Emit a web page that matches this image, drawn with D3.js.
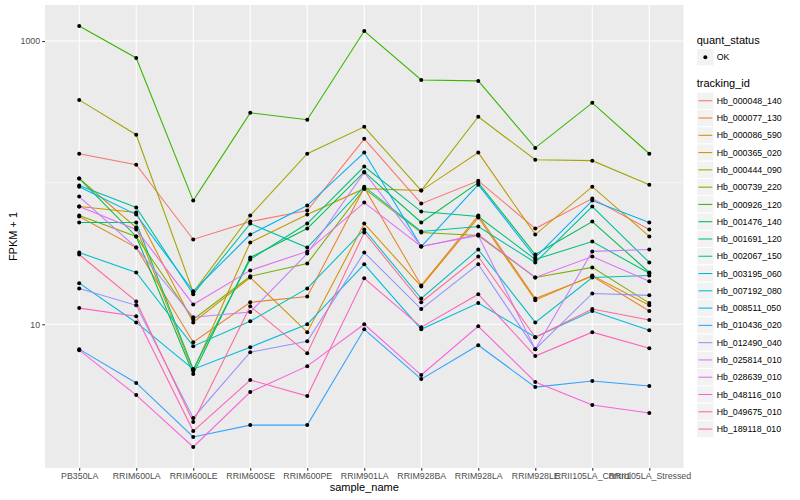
<!DOCTYPE html>
<html lang="en">
<head>
<meta charset="utf-8">
<style>
  body { margin: 0; background: #ffffff; }
  text { font-family: "Liberation Sans", Arial, sans-serif; }
  .axis text { fill: #4d4d4d; font-size: 8.8px; }
  .axis line { stroke: #333333; stroke-width: 1.07; }
  .axis path { display: none; }
</style>
</head>
<body>
<script src="https://d3js.org/d3.v7.min.js"></script>
<script>
// categories on the x axis
const samples = ["PB350LA", "RRIM600LA", "RRIM600LE", "RRIM600SE", "RRIM600PE", "RRIM901LA",
                 "RRIM928BA", "RRIM928LA", "RRIM928LE", "RRII105LA_Control", "RRII105LA_Stressed"];

const trackingIds = ["Hb_000048_140", "Hb_000077_130", "Hb_000086_590", "Hb_000365_020", "Hb_000444_090",
                     "Hb_000739_220", "Hb_000926_120", "Hb_001476_140", "Hb_001691_120", "Hb_002067_150",
                     "Hb_003195_060", "Hb_007192_080", "Hb_008511_050", "Hb_010436_020", "Hb_012490_040",
                     "Hb_025814_010", "Hb_028639_010", "Hb_048116_010", "Hb_049675_010", "Hb_189118_010"];

// FPKM + 1, one row per tracking id, one value per sample
const fpkmPlusOne = [
  [160, 134, 39.7, 53.1, 63.5, 204, 71.1, 103, 47.4, 77.2, 46.7],
  [57.7, 34.8, 7.47, 14.3, 15.7, 92.2, 18.8, 58.6, 15.2, 21.8, 12.4],
  [67.8, 61.5, 10.3, 21.4, 8.79, 51.4, 18.5, 56.7, 14.8, 22.1, 13.6],
  [107, 48.2, 4.67, 37.8, 59.5, 90.7, 87.9, 163, 43.0, 93.7, 41.7],
  [384, 218, 16.8, 58.6, 160, 248, 87.9, 292, 145, 143, 96.8],
  [58.6, 41.7, 10.8, 21.8, 26.9, 90.7, 44.5, 42.3, 21.4, 25.2, 14.1],
  [1276, 759, 74.7, 311, 278, 1176, 531, 523, 176, 366, 160],
  [107, 41.7, 4.45, 29.6, 47.4, 119, 52.3, 100, 31.1, 53.1, 23.2],
  [52.3, 52.3, 4.82, 28.7, 51.4, 130, 62.5, 57.7, 28.7, 38.4, 22.9],
  [95.3, 66.7, 16.3, 51.4, 34.8, 93.7, 45.2, 49.0, 27.3, 67.8, 27.3],
  [32.1, 23.2, 7.00, 10.5, 17.9, 46.7, 15.2, 33.7, 10.3, 21.4, 22.1],
  [19.5, 10.3, 4.82, 6.89, 10.0, 26.5, 9.22, 14.1, 8.10, 12.4, 9.08],
  [93.7, 59.5, 17.1, 43.0, 68.9, 163, 35.4, 96.8, 29.6, 74.7, 52.3],
  [6.67, 3.85, 1.60, 1.94, 1.94, 9.22, 4.10, 7.11, 3.60, 3.97, 3.66],
  [17.9, 13.6, 2.18, 6.35, 7.59, 32.1, 12.8, 26.5, 6.67, 16.5, 16.0],
  [79.7, 34.8, 11.2, 12.2, 31.6, 118, 35.4, 42.3, 6.67, 32.7, 33.7],
  [67.8, 46.7, 13.8, 24.0, 32.7, 72.3, 35.4, 43.0, 21.4, 30.1, 20.1],
  [6.56, 3.16, 1.36, 3.32, 5.06, 10.0, 4.38, 9.68, 3.91, 2.69, 2.36],
  [13.0, 11.4, 1.76, 4.04, 3.11, 21.1, 9.53, 16.3, 5.96, 8.79, 6.78],
  [31.1, 14.5, 2.04, 13.4, 6.25, 44.5, 14.3, 30.1, 8.10, 12.8, 10.7]
];

const quantStatus = ["OK"];
const yTickValues = [10, 1000];
const yMinorValues = [100];

// ggplot-like hue palette (polar Luv, l = 65, c = 100)
const hueColor = (h) => {
  let l = 65, c = 100;
  let hr = h * Math.PI / 180;
  let Xn = 95.047, Yn = 100, Zn = 108.883;
  let un = 4 * Xn / (Xn + 15 * Yn + 3 * Zn);
  let vn = 9 * Yn / (Xn + 15 * Yn + 3 * Zn);
  let Y = Yn * Math.pow((l + 16) / 116, 3);
  let u = c * Math.cos(hr) / (13 * l) + un;
  let v = c * Math.sin(hr) / (13 * l) + vn;
  let X = Y * 9 * u / (4 * v);
  let Z = Y * (12 - 3 * u - 20 * v) / (4 * v);
  let x = X / 100, y = Y / 100, z = Z / 100;
  let rgb = [
    3.240479 * x - 1.53715 * y - 0.498535 * z,
    -0.969256 * x + 1.875992 * y + 0.041556 * z,
    0.055648 * x - 0.204043 * y + 1.057311 * z
  ].map((t) => {
    t = t <= 0.0031308 ? 12.92 * t : 1.055 * Math.pow(t, 1 / 2.4) - 0.055;
    return Math.round(Math.max(0, Math.min(1, t)) * 255);
  });
  return d3.rgb(rgb[0], rgb[1], rgb[2]).formatHex();
};

let w = 800;
let h = 500;
let pLeft = 45, pRight = 683.5, pTop = 5, pBottom = 468;

let svg = d3.select("body")
            .append("svg")
            .attr("width", w)
            .attr("height", h);

let xScale = d3.scalePoint()
               .domain(samples)
               .range([pLeft, pRight])
               .padding(0.6);

let allValues = fpkmPlusOne.flat();
let lMin = Math.log10(d3.min(allValues));
let lMax = Math.log10(d3.max(allValues));
let span = lMax - lMin;
let yScale = d3.scaleLog()
               .domain([Math.pow(10, lMin - 0.05 * span), Math.pow(10, lMax + 0.05 * span)])
               .range([pBottom, pTop]);

let cScale = d3.scaleOrdinal()
               .domain(trackingIds)
               .range(trackingIds.map((d, i) => hueColor(15 + i * 360 / trackingIds.length)));

// panel
svg.append("rect")
   .attr("x", pLeft)
   .attr("y", pTop)
   .attr("width", pRight - pLeft)
   .attr("height", pBottom - pTop)
   .attr("fill", "#ebebeb");

svg.selectAll(".minor")
   .data(yMinorValues)
   .enter()
   .append("line")
   .attr("x1", pLeft).attr("x2", pRight)
   .attr("y1", (d) => yScale(d)).attr("y2", (d) => yScale(d))
   .attr("stroke", "#ffffff")
   .attr("stroke-width", 0.53);

svg.selectAll(".hgrid")
   .data(yTickValues)
   .enter()
   .append("line")
   .attr("x1", pLeft).attr("x2", pRight)
   .attr("y1", (d) => yScale(d)).attr("y2", (d) => yScale(d))
   .attr("stroke", "#ffffff")
   .attr("stroke-width", 1.07);

svg.selectAll(".vgrid")
   .data(samples)
   .enter()
   .append("line")
   .attr("x1", (d) => xScale(d)).attr("x2", (d) => xScale(d))
   .attr("y1", pTop).attr("y2", pBottom)
   .attr("stroke", "#ffffff")
   .attr("stroke-width", 1.07);

// lines
let line = d3.line()
             .x((d, i) => xScale(samples[i]))
             .y((d) => yScale(d));

svg.selectAll(".series")
   .data(fpkmPlusOne)
   .enter()
   .append("path")
   .attr("d", (d) => line(d))
   .attr("fill", "none")
   .attr("stroke", (d, i) => cScale(trackingIds[i]))
   .attr("stroke-width", 1.07);

// points
let points = [];
fpkmPlusOne.forEach((row, i) => {
  row.forEach((v, j) => {
    points.push({ id: trackingIds[i], sample: samples[j], value: v, status: quantStatus[0] });
  });
});

svg.selectAll(".pt")
   .data(points)
   .enter()
   .append("circle")
   .attr("cx", (d) => xScale(d.sample))
   .attr("cy", (d) => yScale(d.value))
   .attr("r", 2)
   .attr("fill", "#000000");

// axes
let xAxis = d3.axisBottom(xScale).tickSize(2.75).tickPadding(2.5);
let yAxis = d3.axisLeft(yScale).tickValues(yTickValues).tickFormat(d3.format("d")).tickSize(2.75).tickPadding(2.2);

svg.append("g")
   .attr("class", "axis")
   .attr("transform", "translate(0, " + pBottom + ")")
   .call(xAxis);

svg.append("g")
   .attr("class", "axis")
   .attr("transform", "translate(" + pLeft + ", 0)")
   .call(yAxis);

svg.append("text")
   .attr("x", (pLeft + pRight) / 2)
   .attr("y", 491)
   .attr("text-anchor", "middle")
   .attr("font-size", "11px")
   .attr("fill", "#000000")
   .text("sample_name");

svg.append("text")
   .attr("transform", "translate(16.5, " + (pTop + pBottom) / 2 + ") rotate(-90)")
   .attr("text-anchor", "middle")
   .attr("font-size", "11px")
   .attr("fill", "#000000")
   .text("FPKM + 1");

// legends
let lx = 696.7;
let keySize = 17.28;

svg.append("text")
   .attr("x", lx).attr("y", 44)
   .attr("font-size", "11px")
   .text("quant_status");

svg.selectAll(".qkey")
   .data(quantStatus)
   .enter()
   .append("rect")
   .attr("x", lx).attr("y", 48.5)
   .attr("width", keySize).attr("height", keySize)
   .attr("fill", "#f2f2f2")
   .attr("stroke", "#ffffff");

svg.selectAll(".qdot")
   .data(quantStatus)
   .enter()
   .append("circle")
   .attr("cx", lx + keySize / 2).attr("cy", 48.5 + keySize / 2)
   .attr("r", 2)
   .attr("fill", "#000000");

svg.selectAll(".qlab")
   .data(quantStatus)
   .enter()
   .append("text")
   .attr("x", lx + 20).attr("y", 48.5 + keySize / 2 + 3.1)
   .attr("font-size", "8.8px")
   .text((d) => d);

svg.append("text")
   .attr("x", lx).attr("y", 87)
   .attr("font-size", "11px")
   .text("tracking_id");

let keyTop = 92.1;
let keys = svg.selectAll(".tkey")
              .data(trackingIds)
              .enter()
              .append("g")
              .attr("transform", (d, i) => "translate(" + lx + ", " + (keyTop + i * keySize) + ")");

keys.append("rect")
    .attr("width", keySize).attr("height", keySize)
    .attr("fill", "#f2f2f2")
    .attr("stroke", "#ffffff");

keys.append("line")
    .attr("x1", 1.7).attr("x2", keySize - 1.7)
    .attr("y1", keySize / 2).attr("y2", keySize / 2)
    .attr("stroke", (d) => cScale(d))
    .attr("stroke-width", 1.07);

keys.append("text")
    .attr("x", 20).attr("y", keySize / 2 + 3.1)
    .attr("font-size", "8.8px")
    .text((d) => d);
</script>
</body>
</html>
